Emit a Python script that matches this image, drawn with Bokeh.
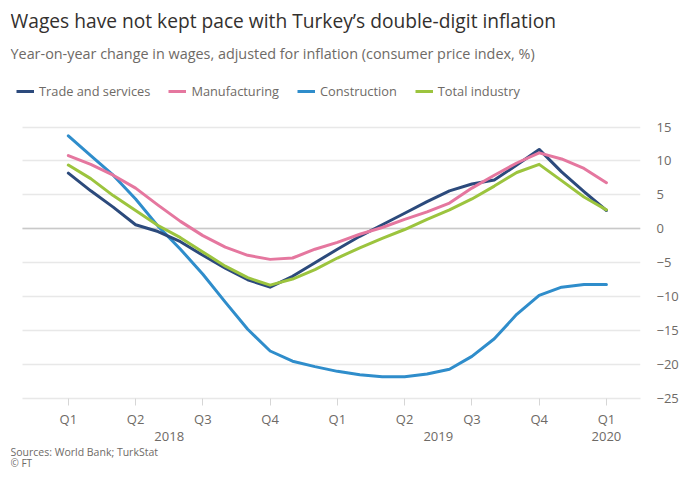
from bokeh.plotting import figure
from bokeh.layouts import column
from bokeh.models import Range1d, FixedTicker, LinearAxis, Label, Legend, LegendItem, Span, Grid
from bokeh.embed import file_html
from bokeh.resources import INLINE

# ---- data (monthly readings, Jan 2018 .. Jan 2020) ----
months = list(range(25))
trade = [8.2, 5.6, 3.2, 0.6, -0.4, -1.9, -3.9, -5.8, -7.5, -8.6, -7.0, -5.0, -3.0,
         -1.1, 0.6, 2.3, 4.0, 5.6, 6.6, 7.2, 9.4, 11.7, 8.4, 5.5, 2.7]
manufacturing = [10.8, 9.5, 7.9, 6.0, 3.5, 1.1, -1.0, -2.7, -3.9, -4.5, -4.3, -3.0, -2.0,
                 -0.8, 0.2, 1.4, 2.5, 3.8, 6.0, 7.9, 9.7, 11.2, 10.3, 8.9, 6.8]
construction = [13.7, 10.8, 7.9, 4.4, 0.4, -3.0, -6.7, -10.8, -14.8, -18.0, -19.5, -20.3, -21.0,
                -21.5, -21.8, -21.8, -21.4, -20.7, -18.8, -16.2, -12.6, -9.8, -8.6, -8.2, -8.2]
total_industry = [9.4, 7.4, 4.9, 2.7, 0.5, -1.3, -3.4, -5.5, -7.2, -8.3, -7.4, -6.0, -4.3,
                  -2.8, -1.4, -0.1, 1.4, 2.8, 4.4, 6.3, 8.3, 9.5, 7.1, 4.7, 2.8]

series_names = ["Trade and services", "Manufacturing", "Construction", "Total industry"]
series_values = [trade, manufacturing, construction, total_industry]
quarter_ticks = [0, 3, 6, 9, 12, 15, 18, 21, 24]
quarter_labels = ["Q1", "Q2", "Q3", "Q4", "Q1", "Q2", "Q3", "Q4", "Q1"]
year_ticks = [4.5, 16.5, 24]
year_labels = ["2018", "2019", "2020"]
y_ticks = [-25, -20, -15, -10, -5, 0, 5, 10, 15]

title_text = "Wages have not kept pace with Turkey\u2019s double-digit inflation"
subtitle_text = "Year-on-year change in wages, adjusted for inflation (consumer price index, %)"
source_text = "Sources: World Bank; TurkStat"
credit_text = "\u00a9 FT"

# ---- styles ----
FONT = "Open Sans"
C_TRADE = "#2c4a7c"
C_MANU = "#e5779f"
C_CONS = "#2f8dcb"
C_TOTAL = "#9cc43e"
COLORS = [C_TRADE, C_MANU, C_CONS, C_TOTAL]
GRID = "#e8e8e8"
ZERO = "#c9c9c9"
LABEL = "#6e6a66"
W = 681
LEFT = 10            # common left edge of all frames (px)
X_START, GRID_START, X_END = -2.58, -2.05, 25.52   # view / gridline extent (x, months)


def bare(h, xr):
    f = figure(width=W, height=h, output_backend="svg", toolbar_location=None,
               x_range=xr, y_range=Range1d(0, 1),
               x_axis_location=None, y_axis_location=None,
               min_border=0, min_border_left=LEFT, min_border_right=33,
               min_border_top=0, min_border_bottom=0)
    f.grid.visible = False
    f.outline_line_color = None
    f.background_fill_color = "white"
    f.border_fill_color = "white"
    return f


# ---------- header: title, subtitle, legend ----------
HEAD_H = 105
head = bare(HEAD_H, Range1d(-100, -99))   # view kept away from the data: only the legend shows
head.add_layout(Label(x=0, y=HEAD_H - 20, x_units="screen", y_units="screen", text=title_text,
                      text_font=FONT, text_font_size="19.2px", text_color="#33302e",
                      text_baseline="middle"))
head.add_layout(Label(x=0, y=HEAD_H - 53, x_units="screen", y_units="screen", text=subtitle_text,
                      text_font=FONT, text_font_size="14.4px", text_color=LABEL,
                      text_baseline="middle"))
legend_renderers = [head.line(months, vals, line_color=c, line_width=3)
                    for vals, c in zip(series_values, COLORS)]
legend = Legend(items=[LegendItem(label=n, renderers=[r]) for n, r in zip(series_names, legend_renderers)],
                orientation="horizontal", location=(6, HEAD_H - 92 - 8),
                background_fill_alpha=0, border_line_color=None,
                padding=0, margin=0, spacing=18, label_standoff=5,
                glyph_width=18, glyph_height=16, label_height=16,
                label_text_font=FONT, label_text_font_size="12.8px", label_text_color=LABEL)
head.add_layout(legend, "center")

# ---------- main chart ----------
MAIN_H = 338
p = figure(width=W, height=MAIN_H, output_backend="svg", toolbar_location=None,
           x_range=Range1d(X_START, X_END), y_range=Range1d(-25, 16.7),
           y_axis_location="right",
           min_border_left=LEFT, min_border_right=33, min_border_top=10, min_border_bottom=45)
p.outline_line_color = None
p.background_fill_color = "white"
p.border_fill_color = "white"

p.xgrid.visible = False
p.ygrid.ticker = FixedTicker(ticks=y_ticks)
p.ygrid.grid_line_color = GRID
p.ygrid.grid_line_width = 1.5
try:
    p.ygrid.cross_bounds = (GRID_START, X_END)
    zero_grid = Grid(dimension=1, ticker=FixedTicker(ticks=[0]), grid_line_color=ZERO,
                     grid_line_width=1.5, cross_bounds=(GRID_START, X_END))
    p.add_layout(zero_grid)
except Exception:
    p.add_layout(Span(location=0, dimension="width", line_color=ZERO, line_width=1.5,
                      level="underlay"))

p.yaxis.ticker = FixedTicker(ticks=y_ticks)
p.yaxis.axis_line_color = None
p.yaxis.major_tick_line_color = None
p.yaxis.minor_tick_line_color = None
p.yaxis.major_label_standoff = 10
p.yaxis.major_label_text_font = FONT
p.yaxis.major_label_text_font_size = "13px"
p.yaxis.major_label_text_color = LABEL

p.xaxis.ticker = FixedTicker(ticks=quarter_ticks)
p.xaxis.bounds = (GRID_START, X_END)
p.xaxis.major_label_overrides = dict(zip(quarter_ticks, quarter_labels))
p.xaxis.axis_line_color = GRID
p.xaxis.axis_line_width = 1.5
p.xaxis.major_tick_in = 0
p.xaxis.major_tick_out = 7
p.xaxis.major_tick_line_color = "#d6d6d6"
p.xaxis.minor_tick_line_color = None
p.xaxis.major_label_standoff = 4
p.xaxis.major_label_text_font = FONT
p.xaxis.major_label_text_font_size = "13px"
p.xaxis.major_label_text_color = LABEL

year_axis = LinearAxis(ticker=FixedTicker(ticks=year_ticks),
                       major_label_overrides=dict(zip(year_ticks, year_labels)),
                       axis_line_color=None, major_tick_line_color=None,
                       minor_tick_line_color=None, major_tick_out=0, major_tick_in=0,
                       major_label_standoff=1,
                       major_label_text_font=FONT, major_label_text_font_size="13px",
                       major_label_text_color=LABEL)
p.add_layout(year_axis, "below")

lw = 3
p.line(months, construction, line_color=C_CONS, line_width=lw, line_join="round", line_cap="round")
p.line(months, trade, line_color=C_TRADE, line_width=lw, line_join="round", line_cap="round")
p.line(months, manufacturing, line_color=C_MANU, line_width=lw, line_join="round", line_cap="round")
p.line(months, total_industry, line_color=C_TOTAL, line_width=lw, line_join="round", line_cap="round")

# ---------- footer: sources ----------
FOOT_H = 468 - HEAD_H - MAIN_H
foot = bare(FOOT_H, Range1d(0, 1))
foot.add_layout(Label(x=0, y=FOOT_H - 8, x_units="screen", y_units="screen", text=source_text,
                      text_font=FONT, text_font_size="10.5px", text_color=LABEL,
                      text_baseline="middle"))
foot.add_layout(Label(x=0, y=FOOT_H - 19, x_units="screen", y_units="screen", text=credit_text,
                      text_font=FONT, text_font_size="10px", text_color=LABEL,
                      text_baseline="middle"))

layout = column(head, p, foot, spacing=0)
open("out.html", "w").write(file_html(layout, INLINE))
